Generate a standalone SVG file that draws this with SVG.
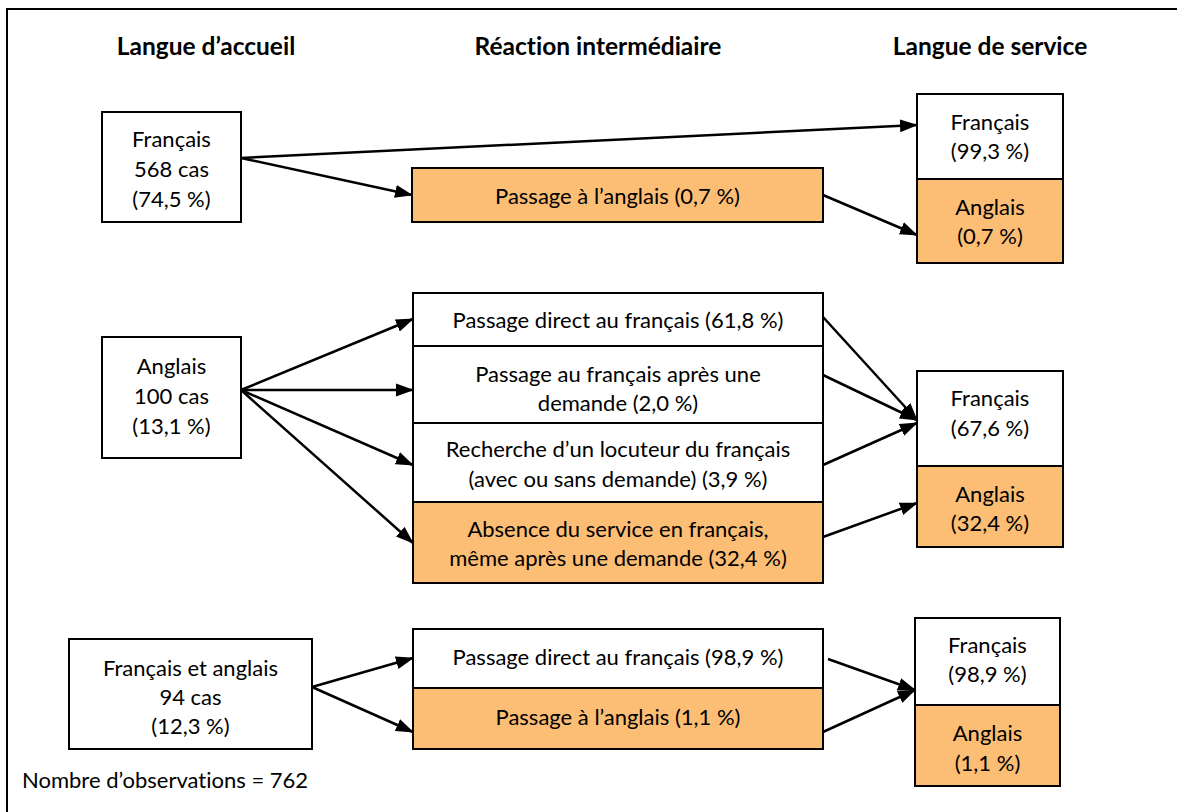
<svg xmlns="http://www.w3.org/2000/svg" width="1177" height="812" viewBox="0 0 1177 812">
<defs>
<style>
text{font-family:Lato,"Open Sans","Liberation Sans",sans-serif;font-size:22px;fill:#000;text-anchor:middle;dominant-baseline:central;font-variant-ligatures:none;font-feature-settings:"liga" 0,"dlig" 0}
.h{font-weight:bold;font-size:24.5px}
.l{text-anchor:start}
.w{fill:#fff;stroke:#000;stroke-width:2}
.o{fill:#FCBD74;stroke:#000;stroke-width:2}
.c line{stroke:#000;stroke-width:2.5;marker-end:url(#ah)}
</style>
<marker id="ah" markerUnits="userSpaceOnUse" markerWidth="18" markerHeight="14" refX="17" refY="6.5" orient="auto" viewBox="0 0 18 13">
<path d="M0,0 L18,6.5 L0,13 z" fill="#000"/>
</marker>
</defs>
<rect x="0" y="0" width="1177" height="812" fill="#fff"/>
<rect x="7" y="9" width="1200" height="900" fill="none" stroke="#000" stroke-width="2"/>
<g id="headers">
<text class="h" x="206" y="45">Langue d’accueil</text>
<text class="h" x="598" y="45">Réaction intermédiaire</text>
<text class="h" x="990" y="45">Langue de service</text>
</g>
<g id="n-fr">
<rect class="w" x="102" y="112" width="139" height="110"/>
<text x="171.5" y="138">Français</text>
<text x="171.5" y="168">568 cas</text>
<text x="171.5" y="198">(74,5 %)</text>
</g>
<g id="n-fr-ang">
<rect class="o" x="412" y="168" width="411" height="54"/>
<text x="617.5" y="195">Passage à l’anglais (0,7 %)</text>
</g>
<g id="n-srv1">
<rect class="w" x="917" y="94" width="146" height="85"/>
<text x="990" y="121">Français</text>
<text x="990" y="150">(99,3 %)</text>
<rect class="o" x="917" y="179" width="146" height="84"/>
<text x="990" y="206">Anglais</text>
<text x="990" y="235">(0,7 %)</text>
</g>
<g id="n-an">
<rect class="w" x="102" y="337" width="139" height="121"/>
<text x="171.5" y="365">Anglais</text>
<text x="171.5" y="395">100 cas</text>
<text x="171.5" y="425">(13,1 %)</text>
</g>
<g id="n-an-1">
<rect class="w" x="413" y="293" width="410" height="53"/>
<text x="618" y="319">Passage direct au français (61,8 %)</text>
</g>
<g id="n-an-2">
<rect class="w" x="413" y="346" width="410" height="77"/>
<text x="618" y="373">Passage au français après une</text>
<text x="618" y="402">demande (2,0 %)</text>
</g>
<g id="n-an-3">
<rect class="w" x="413" y="423" width="410" height="79"/>
<text x="618" y="448">Recherche d’un locuteur du français</text>
<text x="618" y="478">(avec ou sans demande) (3,9 %)</text>
</g>
<g id="n-an-4">
<rect class="o" x="413" y="502" width="410" height="81"/>
<text x="618" y="528">Absence du service en français,</text>
<text x="618" y="557">même après une demande (32,4 %)</text>
</g>
<g id="n-srv2">
<rect class="w" x="917" y="371" width="146" height="95"/>
<text x="990" y="397">Français</text>
<text x="990" y="427">(67,6 %)</text>
<rect class="o" x="917" y="466" width="146" height="81"/>
<text x="990" y="493">Anglais</text>
<text x="990" y="522">(32,4 %)</text>
</g>
<g id="n-fa">
<rect class="w" x="69" y="639" width="243" height="110"/>
<text x="190.5" y="667">Français et anglais</text>
<text x="190.5" y="696">94 cas</text>
<text x="190.5" y="725">(12,3 %)</text>
</g>
<g id="n-fa-1">
<rect class="w" x="413" y="629" width="410" height="59"/>
<text x="618" y="656">Passage direct au français (98,9 %)</text>
</g>
<g id="n-fa-2">
<rect class="o" x="413" y="688" width="410" height="61"/>
<text x="618" y="716">Passage à l’anglais (1,1 %)</text>
</g>
<g id="n-srv3">
<rect class="w" x="915" y="618" width="145" height="87"/>
<text x="987.5" y="644">Français</text>
<text x="987.5" y="673">(98,9 %)</text>
<rect class="o" x="915" y="705" width="145" height="81"/>
<text x="987.5" y="732">Anglais</text>
<text x="987.5" y="762">(1,1 %)</text>
</g>
<g id="note">
<text class="l" x="22" y="779">Nombre d’observations = 762</text>
</g>
<g id="connectors" class="c">
<line x1="241" y1="158" x2="917" y2="125"/>
<line x1="241" y1="158" x2="412" y2="195"/>
<line x1="823" y1="195" x2="917" y2="235"/>
<line x1="241" y1="390" x2="413" y2="319"/>
<line x1="241" y1="390" x2="413" y2="390"/>
<line x1="241" y1="390" x2="413" y2="465"/>
<line x1="241" y1="390" x2="413" y2="543"/>
<line x1="823" y1="317" x2="917" y2="420"/>
<line x1="823" y1="375" x2="917" y2="420"/>
<line x1="823" y1="465" x2="917" y2="423"/>
<line x1="823" y1="537" x2="917" y2="503"/>
<line x1="312" y1="687" x2="413" y2="658"/>
<line x1="312" y1="687" x2="413" y2="732"/>
<line x1="828" y1="659" x2="915" y2="690"/>
<line x1="823" y1="732" x2="915" y2="690"/>
</g>
</svg>
